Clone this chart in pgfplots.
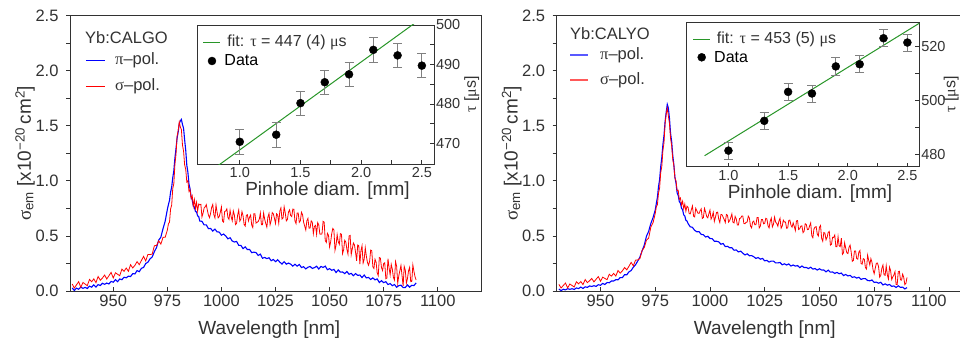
\documentclass[border=0pt]{standalone}
\usepackage{fontspec}
\setmainfont{Liberation Sans}
\newfontfamily\grk{Liberation Serif}
\newcommand{\gr}[1]{{\grk #1}}
\newcommand{\fTick}{\fontsize{16.5}{18}\selectfont}
\newcommand{\fLab}{\fontsize{19}{22}\selectfont}
\newcommand{\fLeg}{\fontsize{16.5}{18}\selectfont}
\newcommand{\fiTick}{\fontsize{14.5}{16}\selectfont}
\newcommand{\fiLab}{\fontsize{19}{21}\selectfont}
\newcommand{\fiLeg}{\fontsize{16}{18}\selectfont}
\usepackage{pgfplots}
\pgfplotsset{compat=1.18}
\usepackage{pgfplotstable}

\definecolor{fitgreen}{RGB}{40,150,40}
\definecolor{axgray}{RGB}{50,50,50}
\tikzset{leg/.style={anchor=west, inner sep=0pt, font=\fLeg, text=axgray},
         ileg/.style={anchor=west, inner sep=0pt, font=\fiLeg, text=axgray},
         fitleg/.style={anchor=west, inner sep=0pt, text=fitgreen}}

\pgfplotstableread{
lam bL rL bR rR
931 .027 .064 .018 .060
932 .005 .027 .003 .027
933 .026 .056 .016 .050
934 .016 .085 .010 .072
935 .035 .033 .021 .028
936 .024 .078 .015 .064
937 .033 .063 .021 .050
938 .023 .048 .014 .037
939 .044 .105 .028 .084
940 .035 .084 .022 .065
941 .056 .110 .036 .086
942 .036 .076 .023 .058
943 .058 .132 .038 .104
944 .050 .098 .033 .076
945 .070 .118 .046 .093
946 .061 .145 .041 .114
947 .072 .109 .048 .083
948 .064 .139 .042 .107
949 .087 .169 .057 .131
950 .080 .118 .052 .088
951 .103 .165 .069 .126
952 .085 .152 .059 .114
953 .109 .139 .077 .103
954 .103 .198 .075 .152
955 .125 .179 .091 .135
956 .120 .209 .091 .160
957 .135 .179 .103 .136
958 .131 .239 .102 .186
959 .158 .209 .122 .162
960 .155 .233 .122 .183
961 .185 .267 .148 .213
962 .175 .239 .147 .192
963 .206 .276 .174 .225
964 .214 .315 .186 .260
965 .250 .273 .216 .228
966 .261 .332 .238 .280
967 .292 .331 .272 .282
968 .309 .335 .308 .295
969 .357 .411 .365 .368
970 .395 .414 .417 .395
971 .462 .455 .498 .462
972 .488 .426 .542 .480
973 .566 .487 .614 .582
974 .634 .488 .666 .620
975 .740 .553 .736 .703
975.5 .785 .610 .795 .765
976 .822 .625 .852 .785
976.5 .898 .745 .948 .890
977 .942 .780 1.012 .935
977.5 1.028 .930 1.128 1.075
978 1.092 .975 1.212 1.130
978.5 1.208 1.150 1.328 1.275
979 1.292 1.240 1.412 1.345
979.5 1.388 1.405 1.538 1.520
980 1.442 1.455 1.622 1.605
980.5 1.518 1.535 1.695 1.660
981 1.545 1.490 1.662 1.590
981.5 1.558 1.465 1.568 1.520
982 1.512 1.325 1.432 1.385
982.5 1.478 1.270 1.358 1.320
983 1.372 1.145 1.232 1.195
983.5 1.278 1.105 1.148 1.140
984 1.142 .990 1.032 1.025
984.5 1.078 1.000 .978 1.000
985 .972 .905 .892 .912
985.5 .928 .920 .868 .915
986 .852 .840 .812 .832
986.5 .828 .865 .798 .845
987 .772 .770 .752 .780
987.5 .762 .830 .738 .815
988 .722 .750 .692 .748
988.5 .718 .805 .682 .790
989 .682 .725 .642 .725
989.5 .676 .790 .636 .770
990 .635 .782 .613 .760
990.5 nan .787 nan .703
991 .633 .673 .583 .701
991.5 nan .706 nan .739
992 .600 .753 .578 .772
992.5 nan .765 nan .680
993 .601 .784 .551 .673
993.5 nan .733 nan .751
994 .566 .689 .538 .729
994.5 nan .666 nan .707
995 .568 .706 .539 .705
995.5 nan .760 nan .728
996 .544 .786 .514 .746
996.5 nan .693 nan .659
997 .562 .663 .511 .667
997.5 nan .780 nan .750
998 .537 .715 .490 .718
998.5 nan .664 nan .676
999 .535 .676 .497 .664
999.5 nan .716 nan .702
1000 .507 .763 .477 .735
1000.5 nan .635 nan .653
1001 .517 .626 .475 .676
1001.5 nan .722 nan .714
1002 .500 .727 .452 .632
1002.5 nan .746 nan .670
1003 .474 .667 .452 .713
1003.5 nan .651 nan .716
1004 .484 .733 .446 .654
1004.5 nan .675 nan .622
1005 .454 .638 .425 .695
1005.5 nan .727 nan .693
1006 .445 .689 .431 .671
1006.5 nan .603 nan .649
1007 .450 .614 .403 .622
1007.5 nan .689 nan .695
1008 .415 .735 .406 .688
1008.5 nan .635 nan .626
1009 .414 .653 .393 .639
1009.5 nan .721 nan .667
1010 .385 .683 .393 .700
1010.5 nan .605 nan .624
1011 .401 .590 .370 .618
1011.5 nan .687 nan .677
1012 .376 .693 .373 .656
1012.5 nan .636 nan .600
1013 .378 .670 .355 .599
1013.5 nan .690 nan .658
1014 .348 .598 .362 .662
1014.5 nan .576 nan .681
1015 .353 .701 .343 .680
1015.5 nan .701 nan .613
1016 .349 .617 .328 .611
1016.5 nan .624 nan .624
1017 .323 .631 .338 .627
1017.5 nan .652 nan .680
1018 .335 .708 .320 .663
1018.5 nan .603 nan .591
1019 .297 .603 .322 .574
1019.5 nan .708 nan .627
1020 .305 .652 .311 .635
1020.5 nan .613 nan .601
1021 .294 .580 .296 .601
1021.5 nan .674 nan .667
1022 .302 .704 .304 .667
1022.5 nan .602 nan .573
1023 .275 .639 .289 .588
1023.5 nan .712 nan .649
1024 .286 .700 .296 .649
1024.5 nan .661 nan .610
1025 .266 .614 .274 .615
1025.5 nan .701 nan .660
1026 .284 .690 .278 .654
1026.5 nan .616 nan .594
1027 .262 .724 .263 .573
1027.5 nan .755 nan .633
1028 .245 .653 .272 .662
1028.5 nan .663 nan .582
1029 .266 .764 .272 .606
1029.5 nan .711 nan .671
1030 .244 .637 .255 .625
1030.5 nan .649 nan .614
1031 .254 .717 .255 .588
1031.5 nan .736 nan .637
1032 .244 .685 .259 .661
1032.5 nan .676 nan .570
1033 .226 .744 .238 .589
1033.5 nan .742 nan .643
1034 .243 .635 .247 .627
1034.5 nan .612 nan .626
1035 .226 .708 .236 .570
1035.5 nan .708 nan .573
1036 .241 .624 .246 .641
1036.5 nan .638 nan .644
1037 .213 .715 .227 .597
1037.5 nan .694 nan .580
1038 .221 .624 .236 .618
1038.5 nan .589 nan .586
1039 .201 .554 .226 .549
1039.5 nan .638 nan .637
1040 .216 .659 .231 .640
1040.5 nan .570 nan .558
1041 .223 .572 .212 .566
1041.5 nan .637 nan .589
1042 .205 .625 .227 .592
1042.5 nan .522 nan .530
1043 .212 .587 .213 .543
1043.5 nan .596 nan .611
1044 .225 .514 .214 .604
1044.5 nan .621 nan .557
1045 .200 .602 .204 .560
1045.5 nan .518 nan .591
1046 .223 .516 .216 .618
1046.5 nan .519 nan .502
1047 .214 .632 .199 .484
1047.5 nan .625 nan .564
1048 .226 .458 .204 .581
1048.5 nan .441 nan .584
1049 .193 .524 .190 .517
1049.5 nan .507 nan .499
1050 .203 .400 .202 .579
1050.5 nan .446 nan .595
1051 .188 .522 .190 .478
1051.5 nan .568 nan .452
1052 .196 .554 .191 .531
1052.5 nan .370 nan .526
1053 .168 .416 .174 .465
1053.5 nan .512 nan .488
1054 .191 .448 .189 .532
1054.5 nan .424 nan .541
1055 .171 .520 .171 .417
1055.5 nan .515 nan .424
1056 .173 .340 .173 .487
1056.5 nan .375 nan .487
1057 .158 .460 .160 .508
1057.5 nan .445 nan .403
1058 .177 .380 .169 .403
1058.5 nan .335 nan .494
1059 .152 .500 .157 .410
1059.5 nan .505 nan .403
1060 .160 .330 .163 .480
1060.5 nan .383 nan .333
1061 .139 .436 .140 .347
1061.5 nan .419 nan .438
1062 .158 .352 .150 .389
1062.5 nan .275 nan .347
1063 .142 .418 .137 .340
1063.5 nan .411 nan .396
1064 .145 .244 .142 .417
1064.5 nan .367 nan .354
1065 .122 .410 .124 .270
1065.5 nan .254 nan .278
1066 .145 .288 .129 .363
1066.5 nan .392 nan .364
1067 .119 .316 .117 .295
1067.5 nan .260 nan .289
1068 .123 .234 .124 .353
1068.5 nan .268 nan .368
1069 .105 .372 .105 .250
1069.5 nan .366 nan .244
1070 .119 .220 .113 .294
1070.5 nan .204 nan .288
1071 .101 .288 .113 .212
1071.5 nan .262 nan .199
1072 .110 .166 .095 .326
1072.5 nan .140 nan .278
1073 .077 .304 .093 .237
1073.5 nan .298 nan .294
1074 .094 .212 .100 .260
1074.5 nan .186 nan .191
1075 .076 .250 .078 .157
1075.5 nan .256 nan .208
1076 .085 .112 .081 .252
1076.5 nan .118 nan .254
1077 .059 .294 .071 .221
1077.5 nan .210 nan .125
1078 .067 .146 .079 .141
1078.5 nan .242 nan .206
1079 .049 .198 .055 .236
1079.5 nan .124 nan .147
1080 .059 .100 .065 .142
1080.5 nan .267 nan .229
1081 .034 .224 .053 .148
1081.5 nan .071 nan .109
1082 .049 .138 .059 .217
1082.5 nan .185 nan .185
1083 .053 .232 .042 .104
1083.5 nan .139 nan .128
1084 .031 .046 .046 .145
1084.5 nan .223 nan .176
1085 .032 .190 .032 .060
1085.5 nan .071 nan .058
1086 .055 .112 .047 .175
1086.5 nan .183 nan .180
1087 .035 .214 .033 .101
1087.5 nan .085 nan .099
1088 .052 .086 .035 .153
1088.5 nan .237 nan .123
1089 .049 .178 .019 .058
1089.5 nan .129 nan .070
1090 .074 .100 .031 .124
}\spectra

\pgfplotstableread{
d t e
1.0 470.4 3.1
1.3 472.2 3.1
1.5 480.2 3.1
1.7 485.5 3.1
1.9 487.5 3.1
2.1 493.7 3.1
2.3 492.3 3.1
2.5 489.7 3.1
}\lifeL

\pgfplotstableread{
d t e
1.0 481.3 3.2
1.3 492.4 3.2
1.5 503.2 3.2
1.7 502.6 3.2
1.9 512.7 3.2
2.1 513.5 3.2
2.3 523.2 3.2
2.5 521.6 3.2
}\lifeR

\pgfplotsset{
  mainax/.style={
    anchor=south west, scale only axis,
    height=275.3pt,
    xmin=930, xmax=1120, ymin=0, ymax=2.5,
    xtick={950,975,...,1100},
    ytick={0,0.5,...,2.5}, minor y tick num=1,
    xtick pos=bottom, ytick pos=left,
    tick align=inside, major tick length=4pt, minor tick length=4pt,
    y tick style={xshift=-4pt},
    tick style={axgray, line width=0.8pt},
    axis line style={axgray, line width=0.9pt},
    unbounded coords=discard,
    /pgf/number format/assume math mode=true,
    tick label style={font=\fTick, text=axgray},
    yticklabel style={xshift=-8pt, /pgf/number format/fixed, /pgf/number format/fixed zerofill, /pgf/number format/precision=1},
    xticklabel style={/pgf/number format/fixed, /pgf/number format/precision=0, /pgf/number format/set thousands separator={}},
    every axis x label/.style={at={(axis description cs:0.485,0)}, yshift=-39pt, anchor=center, font=\fLab, text=axgray},
    every axis y label/.style={at={(axis description cs:0,0.5)}, xshift=-45pt, rotate=90, anchor=center, font=\fLab, text=axgray},
    xlabel={\fLab Wavelength [nm]},
    ylabel={\fLab\gr{σ}\textsubscript{em} [x10\textsuperscript{−20}\,cm\textsuperscript{2}]},
  },
  insetax/.style={
    anchor=south west, scale only axis,
    xmin=0.65, xmax=2.6,
    xtick={1,1.5,2,2.5}, minor x tick num=1,
    xtick pos=bottom, ytick pos=right, yticklabel pos=right,
    tick align=inside, major tick length=4pt, minor tick length=4pt,
    tick style={axgray, line width=0.8pt},
    axis line style={axgray, line width=0.9pt},
    axis background/.style={fill=white},
    /pgf/number format/assume math mode=true,
    tick label style={font=\fiTick, text=axgray},
    xticklabel style={/pgf/number format/fixed, /pgf/number format/fixed zerofill, /pgf/number format/precision=1},
    yticklabel style={xshift=-1.5pt},
    xlabel={\fiLab Pinhole diam. [mm]},
    ylabel={\fiLeg\gr{τ} [\gr{μ}s]},
    every axis y label/.style={at={(axis description cs:1,0.5)}, xshift=37.7pt, rotate=90, anchor=center, font=\fiLeg, text=axgray},
    legend cell align=left,
    legend style={draw=none, fill=none, font=\fiLeg, inner sep=0pt, anchor=west,
      /tikz/every odd column/.append style={column sep=2pt}},
  },
  datapts/.style={only marks, mark=*, mark size=4pt, black,
    legend image code/.code={\path[draw=none] (0pt,0pt) (17pt,0pt); \fill[black] (8.5pt,0pt) circle (4pt);},
    error bars/.cd, y dir=both, y explicit,
    error bar style={gray, line width=0.8pt},
    error mark options={rotate=90, mark size=4.5pt, gray, line width=0.8pt}},
}

\begin{document}
\begin{tikzpicture}
% ---------------- left panel ----------------
\begin{axis}[mainax, at={(70pt,50pt)}, width=411pt]
\addplot[blue, line width=1.1pt] table[x=lam, y=bL] {\spectra};
\addplot[red, line width=0.8pt] table[x=lam, y=rL] {\spectra};
\node[leg] at (axis description cs:0.0365,0.921) {Yb:CALGO};
\draw[blue, line width=1.2pt] (axis description cs:0.0389,0.8365) -- (axis description cs:0.0852,0.8365);
\node[leg] at (axis description cs:0.1095,0.8365) {\gr{π}–pol.};
\draw[red, line width=1.2pt] (axis description cs:0.0389,0.742) -- (axis description cs:0.0852,0.742);
\node[leg] at (axis description cs:0.1095,0.742) {\gr{σ}–pol.};
\end{axis}

\begin{axis}[insetax, at={(197.3pt,176.7pt)}, width=236.7pt, height=139.3pt,
  ymin=464.7, ymax=500, ytick={470,480,490,500}, minor y tick num=1,
  legend style={at={(axis description cs:0.0253,0.7416)}},
  every axis x label/.style={at={(axis description cs:0.55,0)}, yshift=-26pt, anchor=center, font=\fiLab, text=axgray}]
\addplot[fitgreen, line width=1pt, forget plot] coordinates {(0.8,463.9) (2.6,504.0)};
\addplot[datapts] table[x=d, y=t, y error=e] {\lifeL};
\addlegendentry{Data}
\node[fitleg] at (axis description cs:0.0253,0.876) {\rule[-0.5pt]{17pt}{1pt}};
\node[ileg] at (axis description cs:0.1267,0.876) {fit: \gr{τ} = 447 (4) \gr{μ}s};
\end{axis}

% ---------------- right panel ----------------
\begin{axis}[mainax, at={(556.7pt,50pt)}, width=416pt,
  every axis x label/.append style={at={(axis description cs:0.5,0)}}]
\addplot[blue, line width=1.1pt] table[x=lam, y=bR] {\spectra};
\addplot[red, line width=0.8pt] table[x=lam, y=rR] {\spectra};
\node[leg] at (axis description cs:0.032,0.9335) {Yb:CALYO};
\draw[blue, line width=2.2pt, opacity=0.65] (axis description cs:0.032,0.857) -- (axis description cs:0.0752,0.857);
\node[leg] at (axis description cs:0.104,0.857) {\gr{π}–pol.};
\draw[red, line width=2.2pt, opacity=0.65] (axis description cs:0.032,0.7664) -- (axis description cs:0.0752,0.7664);
\node[leg] at (axis description cs:0.104,0.7664) {\gr{σ}–pol.};
\end{axis}

\begin{axis}[insetax, at={(686.7pt,174.3pt)}, width=232.6pt, height=144pt,
  ymin=475.3, ymax=529, ytick={480,500,520}, minor y tick num=1,
  legend style={at={(axis description cs:0.0271,0.7597)}},
  every axis y label/.style={at={(axis description cs:1,0.5)}, xshift=32pt, rotate=90, anchor=center, font=\fiLeg, text=axgray},
  every axis x label/.style={at={(axis description cs:0.53,0)}, yshift=-27pt, anchor=center, font=\fiLab, text=axgray}]
\addplot[fitgreen, line width=1pt, forget plot] coordinates {(0.8,479.4) (2.6,528.8)};
\addplot[datapts] table[x=d, y=t, y error=e] {\lifeR};
\addlegendentry{Data}
\node[fitleg] at (axis description cs:0.0271,0.8847) {\rule[-0.5pt]{17pt}{1pt}};
\node[ileg] at (axis description cs:0.129,0.8847) {fit: \gr{τ} = 453 (5) \gr{μ}s};
\end{axis}

\pgfresetboundingbox
\path (0pt,0pt) rectangle (960pt,341pt);
\end{tikzpicture}
\end{document}
